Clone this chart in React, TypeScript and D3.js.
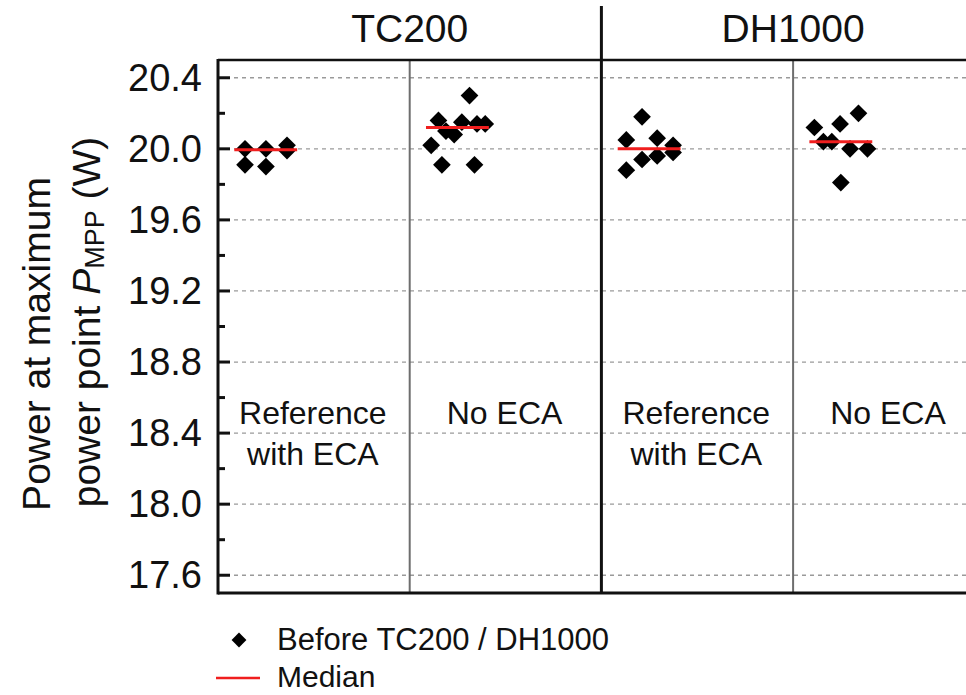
import * as d3 from "d3";

// test groups (header) and the four panels
const testGroups = ["TC200", "DH1000"];
const panelLabels = [["Reference", "with ECA"], ["No ECA"], ["Reference", "with ECA"], ["No ECA"]];

// Pmpp before stress (W), with horizontal offsets inside each panel (category units)
const tcRefValues = [20.0, 19.91, 20.0, 19.9, 20.02, 19.99];
const tcRefOffsets = [-0.359, -0.359, -0.25, -0.25, -0.14, -0.14];
const tcNoEcaValues = [20.02, 20.16, 19.91, 20.1, 20.08, 20.15, 20.3, 19.91, 20.14, 20.14];
const tcNoEcaOffsets = [-0.388, -0.35, -0.332, -0.311, -0.268, -0.228, -0.188, -0.162, -0.149, -0.106];
const dhRefValues = [20.05, 19.88, 20.18, 19.94, 20.06, 19.96, 20.02, 19.98];
const dhRefOffsets = [-0.37, -0.37, -0.288, -0.288, -0.209, -0.209, -0.126, -0.126];
const dhNoEcaValues = [20.12, 20.04, 20.04, 20.14, 19.81, 20.0, 20.2, 20.0];
const dhNoEcaOffsets = [-0.389, -0.342, -0.298, -0.255, -0.251, -0.203, -0.159, -0.112];

const yTickValues = [17.6, 18.0, 18.4, 18.8, 19.2, 19.6, 20.0, 20.4];
const yMinorValues = [17.8, 18.2, 18.6, 19.0, 19.4, 19.8, 20.2];

const legendLabels = ["Before TC200 / DH1000", "Median"];

const panels = [
  { values: tcRefValues, offsets: tcRefOffsets },
  { values: tcNoEcaValues, offsets: tcNoEcaOffsets },
  { values: dhRefValues, offsets: dhRefOffsets },
  { values: dhNoEcaValues, offsets: dhNoEcaOffsets },
];

const W = 966;
const H = 695;
const FONT = "'Liberation Sans', Arial, Helvetica, sans-serif";
const RED = "#f01e1e";

export default function App() {
  const left = 218;
  const top = 60;
  const bottom = 593;
  const panelW = 191.7;

  const x = d3.scaleLinear().domain([0.5, 4.5]).range([left, left + 4 * panelW]);
  const y = d3.scaleLinear().domain([17.5, 20.5]).range([bottom, top]);

  const diamondType = (d3 as any).symbolDiamond2 ?? d3.symbolSquare;
  const diamond = d3.symbol().type(diamondType).size(200)() ?? "";
  const legendDiamond = d3.symbol().type(diamondType).size(140)() ?? "";

  const medianHalf = 0.164;
  const medianCenter = -0.251;

  return (
    <svg
      width={W}
      height={H}
      viewBox={`0 0 ${W} ${H}`}
      style={{ position: "absolute", left: 0, top: 0, background: "#fff" }}
      fontFamily={FONT}
    >
      {/* gridlines */}
      {yTickValues.map((t) => (
        <line
          key={`g${t}`}
          x1={left}
          x2={W}
          y1={y(t)}
          y2={y(t)}
          stroke="#9a9a9a"
          strokeWidth={1.3}
          strokeDasharray="4 4"
        />
      ))}

      {/* panel dividers */}
      {[1.5, 3.5].map((v) => (
        <line key={`d${v}`} x1={x(v)} x2={x(v)} y1={top} y2={bottom} stroke="#6e6e6e" strokeWidth={2} />
      ))}
      <line x1={x(2.5)} x2={x(2.5)} y1={6} y2={bottom} stroke="#111" strokeWidth={3} />

      {/* frame */}
      <line x1={left} x2={W} y1={top} y2={top} stroke="#111" strokeWidth={2.5} />
      <line x1={left} x2={W} y1={bottom} y2={bottom} stroke="#111" strokeWidth={3} />
      <line x1={left} x2={left} y1={top - 1} y2={bottom + 1.5} stroke="#111" strokeWidth={3} />

      {/* y ticks */}
      {yTickValues.map((t) => (
        <g key={`t${t}`}>
          <line x1={left} x2={left + 12} y1={y(t)} y2={y(t)} stroke="#111" strokeWidth={3} />
          <text x={left - 16} y={y(t) + 13} textAnchor="end" fontSize={38} fill="#111">
            {d3.format(".1f")(t)}
          </text>
        </g>
      ))}
      {yMinorValues.map((t) => (
        <line key={`m${t}`} x1={left} x2={left + 7} y1={y(t)} y2={y(t)} stroke="#111" strokeWidth={3} />
      ))}

      {/* header */}
      {testGroups.map((g, i) => (
        <text key={g} x={x(1.5 + 2 * i)} y={42} textAnchor="middle" fontSize={39} fill="#111">
          {g}
        </text>
      ))}

      {/* panel labels */}
      {panelLabels.map((lines, i) =>
        lines.map((l, j) => (
          <text
            key={`${i}-${j}`}
            x={x(i + 1) - 1}
            y={424 + j * 41}
            textAnchor="middle"
            fontSize={32}
            fill="#111"
          >
            {l}
          </text>
        ))
      )}

      {/* points and medians */}
      {panels.map((p, i) => {
        const med = d3.median(p.values) ?? 0;
        const c = i + 1;
        return (
          <g key={`p${i}`}>
            {p.values.map((v, k) => (
              <path
                key={k}
                d={diamond}
                transform={`translate(${x(c + p.offsets[k])},${y(v)})`}
                fill="#000"
              />
            ))}
            <line
              x1={x(c + medianCenter - medianHalf)}
              x2={x(c + medianCenter + medianHalf)}
              y1={y(med)}
              y2={y(med)}
              stroke={RED}
              strokeWidth={3}
            />
          </g>
        );
      })}

      {/* y axis title */}
      <g transform="translate(50,344) rotate(-90)">
        <text textAnchor="middle" fontSize={39} fill="#111">
          Power at maximum
        </text>
      </g>
      <g transform="translate(100,322) rotate(-90)">
        <text textAnchor="middle" fontSize={39} fill="#111">
          power point <tspan fontStyle="italic">P</tspan>
          <tspan fontSize={27} dy={4}>MPP</tspan>
          <tspan dy={-4}> (W)</tspan>
        </text>
      </g>

      {/* legend */}
      <path d={legendDiamond} transform="translate(239,640)" fill="#000" />
      <text x={277} y={650} fontSize={31} fill="#111">
        {legendLabels[0]}
      </text>
      <line x1={216} x2={260} y1={678} y2={678} stroke={RED} strokeWidth={2.5} />
      <text x={277} y={687} fontSize={30} fill="#111">
        {legendLabels[1]}
      </text>
    </svg>
  );
}
